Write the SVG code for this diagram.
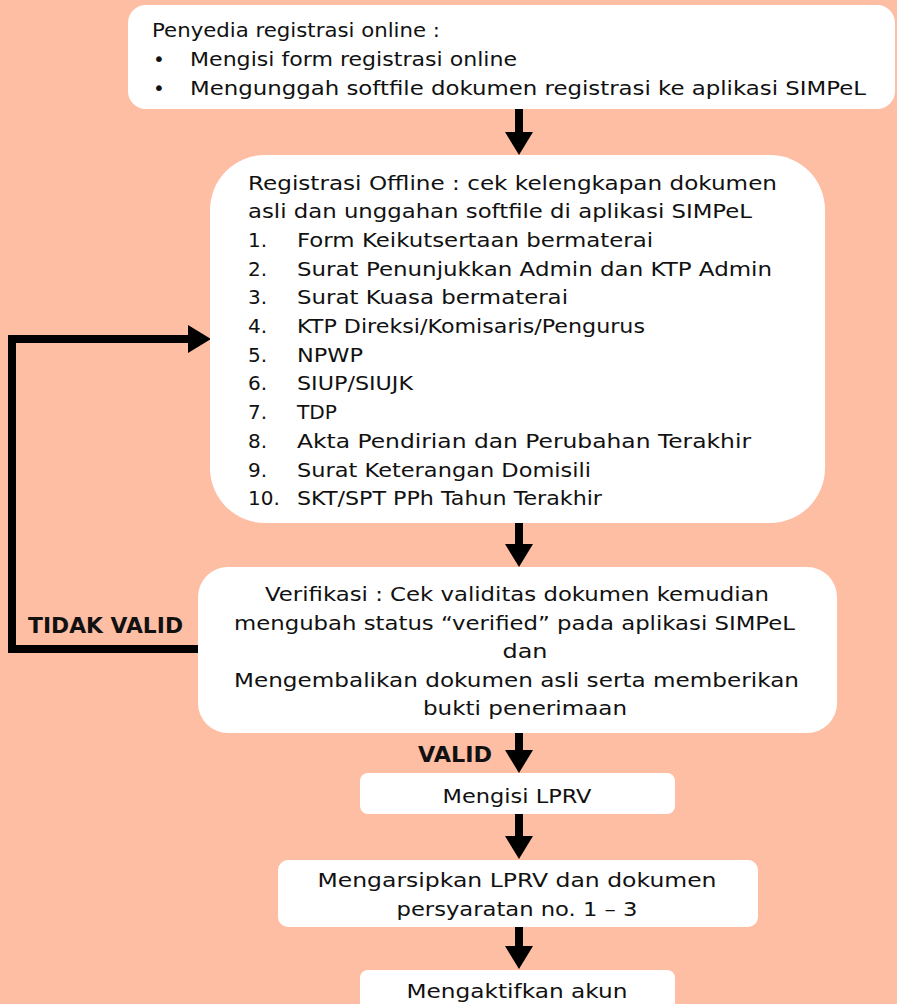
<svg xmlns="http://www.w3.org/2000/svg" width="897" height="1004" viewBox="0 0 897 1004">
<style>
.bg{fill:#FEBEA4}
.box{fill:#FFFFFF}
.t{font-family:"DejaVu Sans","Liberation Sans",sans-serif;font-size:20px;fill:#111111}
.c{text-anchor:middle}
.b{font-family:"DejaVu Sans","Liberation Sans",sans-serif;font-size:20.5px;font-weight:bold;fill:#111111}
.ln{fill:none;stroke:#000000;stroke-width:8;stroke-linejoin:miter}
</style>
<defs>
<marker id="ah" markerUnits="userSpaceOnUse" viewBox="0 0 23 28" refX="1" refY="14" markerWidth="23" markerHeight="28" orient="auto">
<path d="M0,0 L23,14 L0,28 Z" fill="#000000"/>
</marker>
</defs>
<rect class="bg" x="0" y="0" width="897" height="1004"/>

<g id="connectors">
<line class="ln" x1="519" y1="108" x2="519" y2="133" marker-end="url(#ah)"/>
<line class="ln" x1="519" y1="522" x2="519" y2="545" marker-end="url(#ah)"/>
<line class="ln" x1="519" y1="732" x2="519" y2="751" marker-end="url(#ah)"/>
<line class="ln" x1="519" y1="813" x2="519" y2="837" marker-end="url(#ah)"/>
<line class="ln" x1="519" y1="927" x2="519" y2="947" marker-end="url(#ah)"/>
<path class="ln" d="M199,649 H12 V339 H189" marker-end="url(#ah)"/>
<text class="b" x="28" y="633" textLength="155" lengthAdjust="spacingAndGlyphs">TIDAK VALID</text>
<text class="b" x="418" y="762" textLength="74" lengthAdjust="spacingAndGlyphs">VALID</text>
</g>

<g id="node-penyedia">
<rect class="box" x="128" y="5" width="767" height="104" rx="18"/>
<text class="t" x="152" y="37" textLength="288" lengthAdjust="spacingAndGlyphs">Penyedia registrasi online :</text>
<text class="t" x="153" y="66">•</text>
<text class="t" x="190" y="66" textLength="327" lengthAdjust="spacingAndGlyphs">Mengisi form registrasi online</text>
<text class="t" x="153" y="95">•</text>
<text class="t" x="190" y="95" textLength="676" lengthAdjust="spacingAndGlyphs">Mengunggah softfile dokumen registrasi ke aplikasi SIMPeL</text>
</g>

<g id="node-registrasi-offline">
<rect class="box" x="210" y="155" width="615" height="368" rx="55"/>
<text class="t" x="248" y="190" textLength="529" lengthAdjust="spacingAndGlyphs">Registrasi Offline : cek kelengkapan dokumen</text>
<text class="t" x="248" y="218" textLength="504" lengthAdjust="spacingAndGlyphs">asli dan unggahan softfile di aplikasi SIMPeL</text>
<text class="t" x="248" y="247">1.</text><text class="t" x="297" y="247" textLength="356" lengthAdjust="spacingAndGlyphs">Form Keikutsertaan bermaterai</text>
<text class="t" x="248" y="276">2.</text><text class="t" x="297" y="276" textLength="475" lengthAdjust="spacingAndGlyphs">Surat Penunjukkan Admin dan KTP Admin</text>
<text class="t" x="248" y="304">3.</text><text class="t" x="297" y="304" textLength="271" lengthAdjust="spacingAndGlyphs">Surat Kuasa bermaterai</text>
<text class="t" x="248" y="333">4.</text><text class="t" x="297" y="333" textLength="348" lengthAdjust="spacingAndGlyphs">KTP Direksi/Komisaris/Pengurus</text>
<text class="t" x="248" y="362">5.</text><text class="t" x="297" y="362" textLength="66" lengthAdjust="spacingAndGlyphs">NPWP</text>
<text class="t" x="248" y="390">6.</text><text class="t" x="297" y="390" textLength="116" lengthAdjust="spacingAndGlyphs">SIUP/SIUJK</text>
<text class="t" x="248" y="419">7.</text><text class="t" x="297" y="419" textLength="40" lengthAdjust="spacingAndGlyphs">TDP</text>
<text class="t" x="248" y="448">8.</text><text class="t" x="297" y="448" textLength="454" lengthAdjust="spacingAndGlyphs">Akta Pendirian dan Perubahan Terakhir</text>
<text class="t" x="248" y="477">9.</text><text class="t" x="297" y="477" textLength="294" lengthAdjust="spacingAndGlyphs">Surat Keterangan Domisili</text>
<text class="t" x="248" y="505">10.</text><text class="t" x="297" y="505" textLength="305" lengthAdjust="spacingAndGlyphs">SKT/SPT PPh Tahun Terakhir</text>
</g>

<g id="node-verifikasi">
<rect class="box" x="198" y="567" width="639" height="166" rx="30"/>
<text class="t c" x="517" y="601" textLength="504" lengthAdjust="spacingAndGlyphs">Verifikasi : Cek validitas dokumen kemudian</text>
<text class="t c" x="514.5" y="630" textLength="561" lengthAdjust="spacingAndGlyphs">mengubah status “verified” pada aplikasi SIMPeL</text>
<text class="t c" x="525" y="658" textLength="45" lengthAdjust="spacingAndGlyphs">dan</text>
<text class="t c" x="516.5" y="687" textLength="565" lengthAdjust="spacingAndGlyphs">Mengembalikan dokumen asli serta memberikan</text>
<text class="t c" x="525" y="715" textLength="204" lengthAdjust="spacingAndGlyphs">bukti penerimaan</text>
</g>

<g id="node-lprv">
<rect class="box" x="360" y="773" width="315" height="41" rx="8"/>
<text class="t c" x="517" y="803" textLength="149" lengthAdjust="spacingAndGlyphs">Mengisi LPRV</text>
</g>

<g id="node-arsip">
<rect class="box" x="278" y="860" width="480" height="67" rx="10"/>
<text class="t c" x="517" y="887" textLength="399" lengthAdjust="spacingAndGlyphs">Mengarsipkan LPRV dan dokumen</text>
<text class="t c" x="517" y="916" textLength="241" lengthAdjust="spacingAndGlyphs">persyaratan no. 1 – 3</text>
</g>

<g id="node-aktifkan">
<rect class="box" x="360" y="970" width="315" height="50" rx="8"/>
<text class="t c" x="517" y="998" textLength="221" lengthAdjust="spacingAndGlyphs">Mengaktifkan akun</text>
</g>
</svg>
